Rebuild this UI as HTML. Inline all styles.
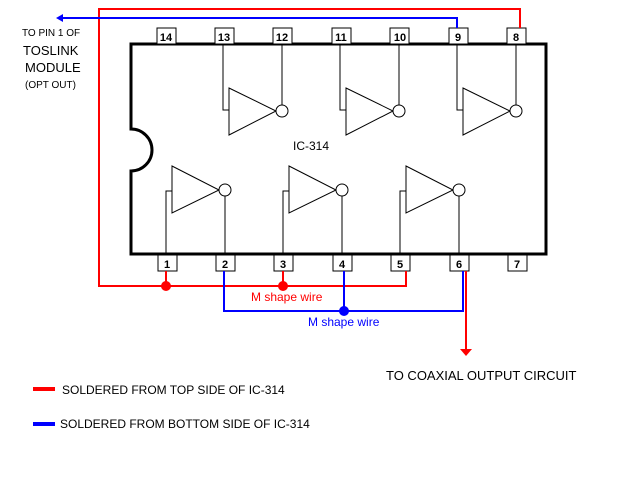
<!DOCTYPE html>
<html><head><meta charset="utf-8"><style>
html,body{margin:0;padding:0;background:#fff}
svg{display:block}
text{font-family:"Liberation Sans",Arial,sans-serif}
</style></head><body>
<svg width="640" height="480" viewBox="0 0 640 480" xmlns="http://www.w3.org/2000/svg">
<rect width="640" height="480" fill="#fff"/>
<path d="M131,44 H546 V254 H131 V171 A21,21 0 0 0 131,129 Z" fill="none" stroke="#000" stroke-width="3"/>
<g fill="#fff" stroke="#000" stroke-width="1">
<rect x="157" y="28" width="19" height="16"/><rect x="215" y="28" width="19" height="16"/><rect x="273" y="28" width="19" height="16"/>
<rect x="332" y="28" width="19" height="16"/><rect x="390" y="28" width="19" height="16"/><rect x="449" y="28" width="19" height="16"/><rect x="507" y="28" width="19" height="16"/>
<rect x="158" y="255" width="19" height="16"/><rect x="216" y="255" width="19" height="16"/><rect x="274" y="255" width="19" height="16"/>
<rect x="333" y="255" width="19" height="16"/><rect x="391" y="255" width="19" height="16"/><rect x="450" y="255" width="19" height="16"/><rect x="508" y="255" width="19" height="16"/>
</g>
<g font-size="11" font-weight="bold" text-anchor="middle" fill="#000">
<text x="166" y="41">14</text><text x="224" y="41">13</text><text x="282" y="41">12</text><text x="341" y="41">11</text><text x="400" y="41">10</text><text x="458" y="41">9</text><text x="516" y="41">8</text>
<text x="167" y="268">1</text><text x="225" y="268">2</text><text x="283" y="268">3</text><text x="342" y="268">4</text><text x="400" y="268">5</text><text x="459" y="268">6</text><text x="517" y="268">7</text>
</g>
<g fill="#fff" stroke="#000" stroke-width="1">
<g id="tg"><path d="M229,88 L276,111 L229,135 Z"/><circle cx="282" cy="111" r="6"/><path d="M223,44 V110 H229 M282,105 V44" fill="none"/></g>
<use href="#tg" x="117"/><use href="#tg" x="234"/>
<g id="bg"><path d="M172,166 L219,190 L172,213 Z"/><circle cx="225" cy="190" r="6"/><path d="M166,254 V191 H172 M225,196 V254" fill="none"/></g>
<use href="#bg" x="117"/><use href="#bg" x="234"/>
</g>
<text x="293" y="150" font-size="12">IC-314</text>
<g fill="none" stroke="#f00" stroke-width="2">
<path d="M520,28 V9 H99 V286 H406 V271"/>
<path d="M166,271 V286 M283,271 V286"/>
<path d="M466,271 V350"/>
</g>
<path d="M460,349 L472,349 L466,356 Z" fill="#f00"/>
<circle cx="166" cy="286" r="5" fill="#f00"/><circle cx="283" cy="286" r="5" fill="#f00"/>
<g fill="none" stroke="#00f" stroke-width="2">
<path d="M457,28 V18 H62"/>
<path d="M224,271 V311 H463 V271"/>
<path d="M344,271 V311"/>
</g>
<path d="M56,18 L63,14 L63,22 Z" fill="#00f"/>
<circle cx="344" cy="311" r="5" fill="#00f"/>
<g fill="#000">
<text x="22" y="36" font-size="10">TO PIN 1 OF</text>
<text x="23" y="55" font-size="13">TOSLINK</text>
<text x="25" y="72" font-size="13">MODULE</text>
<text x="25" y="88" font-size="10">(OPT OUT)</text>
<text x="386" y="380" font-size="13">TO COAXIAL OUTPUT CIRCUIT</text>
<text x="62" y="394" font-size="12">SOLDERED FROM TOP SIDE OF IC-314</text>
<text x="60" y="428" font-size="12">SOLDERED FROM BOTTOM SIDE OF IC-314</text>
</g>
<text x="251" y="301" font-size="12" fill="#f00">M shape wire</text>
<text x="308" y="326" font-size="12" fill="#00f">M shape wire</text>
<rect x="33" y="387" width="22" height="4" fill="#f00"/>
<rect x="33" y="422" width="22" height="4" fill="#00f"/>
</svg>
</body></html>
